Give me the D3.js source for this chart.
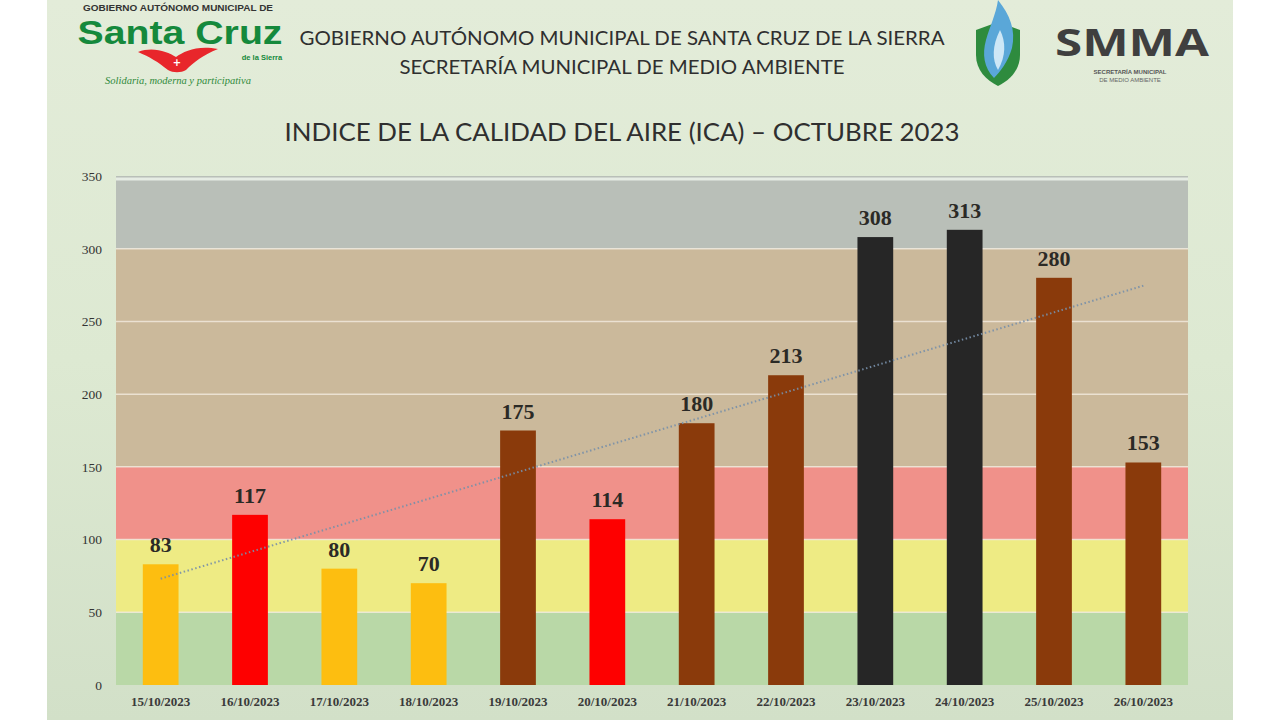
<!DOCTYPE html>
<html><head><meta charset="utf-8">
<script src="https://cdn.jsdelivr.net/npm/d3@7"></script>
<style>html,body{margin:0;padding:0;background:#fff;}svg{display:block;}</style>
</head><body>
<svg id="c" width="1280" height="720"></svg>
<script>
const dates = ["15/10/2023","16/10/2023","17/10/2023","18/10/2023","19/10/2023","20/10/2023","21/10/2023","22/10/2023","23/10/2023","24/10/2023","25/10/2023","26/10/2023"];
const ica = [83,117,80,70,175,114,180,213,308,313,280,153];
const barColors = ["#fdbe10","#fe0000","#fdbe10","#fdbe10","#8a3a0b","#fe0000","#8a3a0b","#8a3a0b","#262626","#262626","#8a3a0b","#8a3a0b"];
const bandStops = [0,50,100,150,300,350];
const bandColors = ["#b9d8a7","#eeeb84","#f0918a","#cbb99b","#b9bfb8"];
const yTicks = [0,50,100,150,200,250,300,350];

const svg = d3.select("#c");
const defs = svg.append("defs");
const g1 = defs.append("linearGradient").attr("id","bg").attr("x1",0).attr("y1",0).attr("x2",0).attr("y2",1);
g1.append("stop").attr("offset","0").attr("stop-color","#e3ecd9");
g1.append("stop").attr("offset","0.5").attr("stop-color","#dde9d2");
g1.append("stop").attr("offset","1").attr("stop-color","#d2e0c8");
svg.append("rect").attr("x",47).attr("y",0).attr("width",1186).attr("height",720).attr("fill","url(#bg)");

const x = d3.scaleBand().domain(dates).range([116,1188]).paddingInner(0.6).paddingOuter(0.3);
const y = d3.scaleLinear().domain([0,350]).range([685,176]);

// bands
const bands = d3.range(bandColors.length).map(i=>({a:bandStops[i],b:bandStops[i+1],c:bandColors[i]}));
svg.append("g").selectAll("rect").data(bands).join("rect")
  .attr("x",116).attr("width",1072)
  .attr("y",d=>y(d.b)).attr("height",d=>y(d.a)-y(d.b)).attr("fill",d=>d.c);
// grid lines
svg.append("g").selectAll("line").data(yTicks.slice(1,-1)).join("line")
  .attr("x1",116).attr("x2",1188).attr("y1",d=>y(d)).attr("y2",d=>y(d))
  .attr("stroke","#f3ece0").attr("stroke-width",1.5).attr("opacity",0.8);
svg.append("line").attr("x1",116).attr("x2",1188).attr("y1",y(350)+3).attr("y2",y(350)+3).attr("stroke","#e6ece4").attr("stroke-width",3);

// bars
svg.append("g").selectAll("rect").data(dates).join("rect")
  .attr("x",d=>x(d)).attr("width",x.bandwidth())
  .attr("y",(d,i)=>y(ica[i])).attr("height",(d,i)=>y(0)-y(ica[i]))
  .attr("fill",(d,i)=>barColors[i]);

// value labels
svg.append("g").selectAll("text").data(dates).join("text")
  .attr("x",d=>x(d)+x.bandwidth()/2).attr("y",(d,i)=>y(ica[i])-12)
  .attr("text-anchor","middle").attr("font-family","Liberation Serif, serif").attr("font-weight","bold")
  .attr("font-size",22).attr("fill","#2b2a26").text((d,i)=>ica[i]);

// trendline (least squares from the data)
const n = ica.length, mx = d3.mean(d3.range(n)), my = d3.mean(ica);
const slope = d3.sum(d3.range(n),i=>(i-mx)*(ica[i]-my))/d3.sum(d3.range(n),i=>(i-mx)*(i-mx));
const icpt = my - slope*mx;
const cx = i => x(dates[i]) + x.bandwidth()/2;
svg.append("line").attr("x1",cx(0)).attr("y1",y(icpt)).attr("x2",cx(n-1)).attr("y2",y(icpt+slope*(n-1)))
  .attr("stroke","#7890aa").attr("stroke-width",2).attr("stroke-dasharray","1.5,2.5").attr("opacity",0.9);

// axes
const yAxis = d3.axisLeft(y).tickValues(yTicks).tickSize(0).tickPadding(14);
const ya = svg.append("g").attr("transform","translate(116,0)").call(yAxis);
ya.select(".domain").remove();
ya.selectAll("text").attr("font-family","Liberation Serif, serif").attr("font-size",13.5).attr("fill","#333");
const xAxis = d3.axisBottom(x).tickSize(0).tickPadding(12);
const xa = svg.append("g").attr("transform","translate(0,685)").call(xAxis);
xa.select(".domain").remove();
xa.selectAll("text").attr("font-family","Liberation Serif, serif").attr("font-weight","bold").attr("font-size",13).attr("fill","#3a3a3a");

// header text
const hdr = svg.append("g").attr("font-family","Lato, Open Sans, sans-serif").attr("fill","#2f2f2f").attr("text-anchor","middle");
hdr.append("text").attr("x",622).attr("y",45).attr("font-size",19.5).attr("textLength",645).attr("lengthAdjust","spacingAndGlyphs").text("GOBIERNO AUTÓNOMO MUNICIPAL DE SANTA CRUZ DE LA SIERRA");
hdr.append("text").attr("x",622).attr("y",74).attr("font-size",19.5).attr("textLength",445).attr("lengthAdjust","spacingAndGlyphs").text("SECRETARÍA MUNICIPAL DE MEDIO AMBIENTE");
hdr.append("text").attr("x",622).attr("y",141).attr("font-size",25).attr("textLength",675).attr("lengthAdjust","spacingAndGlyphs").text("INDICE DE LA CALIDAD DEL AIRE (ICA) – OCTUBRE 2023");

// left logo
const lg = svg.append("g");
lg.append("text").attr("x",178).attr("y",11).attr("text-anchor","middle").attr("font-family","Liberation Sans Narrow, Liberation Sans, sans-serif").attr("font-size",9).attr("font-weight","bold").attr("fill","#333").attr("textLength",190).attr("lengthAdjust","spacingAndGlyphs").text("GOBIERNO AUTÓNOMO MUNICIPAL DE");
lg.append("text").attr("x",180).attr("y",44).attr("text-anchor","middle").attr("font-family","Liberation Sans, Arial, sans-serif").attr("font-size",34).attr("font-weight","bold").attr("fill","#15893c").attr("textLength",205).attr("lengthAdjust","spacingAndGlyphs").text("Santa Cruz");
lg.append("path").attr("d","M138,52 C153,46 168,52 176,57 C184,51 198,45 218,49 C203,55 194,62 186,70 C181,73 173,73 168,70 C158,62 150,57 138,52 Z").attr("fill","#e8262b");
lg.append("text").attr("x",177).attr("y",66).attr("text-anchor","middle").attr("font-family","DejaVu Sans").attr("font-size",10).attr("font-weight","bold").attr("fill","#fff").text("+");
lg.append("text").attr("x",262).attr("y",60).attr("text-anchor","middle").attr("font-family","Liberation Sans, sans-serif").attr("font-size",7.5).attr("font-weight","bold").attr("fill","#15893c").text("de la Sierra");
lg.append("text").attr("x",178).attr("y",84).attr("text-anchor","middle").attr("font-family","Liberation Serif, serif").attr("font-style","italic").attr("font-size",10.5).attr("fill","#2f8a3a").text("Solidaria, moderna y participativa");

// right logo
const rg = svg.append("g");
rg.append("path").attr("d","M976,30 L998,22 L1020,30 L1020,55 C1020,70 1010,80 998,86 C986,80 976,70 976,55 Z").attr("fill","#2e8b3e");
rg.append("path").attr("d","M998,0 C1010,15 1016,30 1012,48 C1008,62 1000,72 994,78 C984,68 982,54 986,40 C990,26 996,14 998,0 Z").attr("fill","#5aa7d8");
rg.append("path").attr("d","M1000,30 C1006,42 1006,56 998,70 C992,60 992,46 1000,30 Z").attr("fill","#cde7f6");
rg.append("text").attr("x",1132).attr("y",56).attr("text-anchor","middle").attr("font-family","Open Sans, sans-serif").attr("font-weight","bold").attr("font-size",38).attr("fill","#3f3f3f").attr("textLength",154).attr("lengthAdjust","spacingAndGlyphs").text("SMMA");
rg.append("text").attr("x",1130).attr("y",74).attr("text-anchor","middle").attr("font-family","Liberation Sans, sans-serif").attr("font-weight","bold").attr("font-size",6).attr("fill","#555").text("SECRETARÍA MUNICIPAL");
rg.append("text").attr("x",1130).attr("y",82).attr("text-anchor","middle").attr("font-family","Liberation Sans, sans-serif").attr("font-size",6).attr("fill","#666").text("DE MEDIO AMBIENTE");
</script>
</body></html>
